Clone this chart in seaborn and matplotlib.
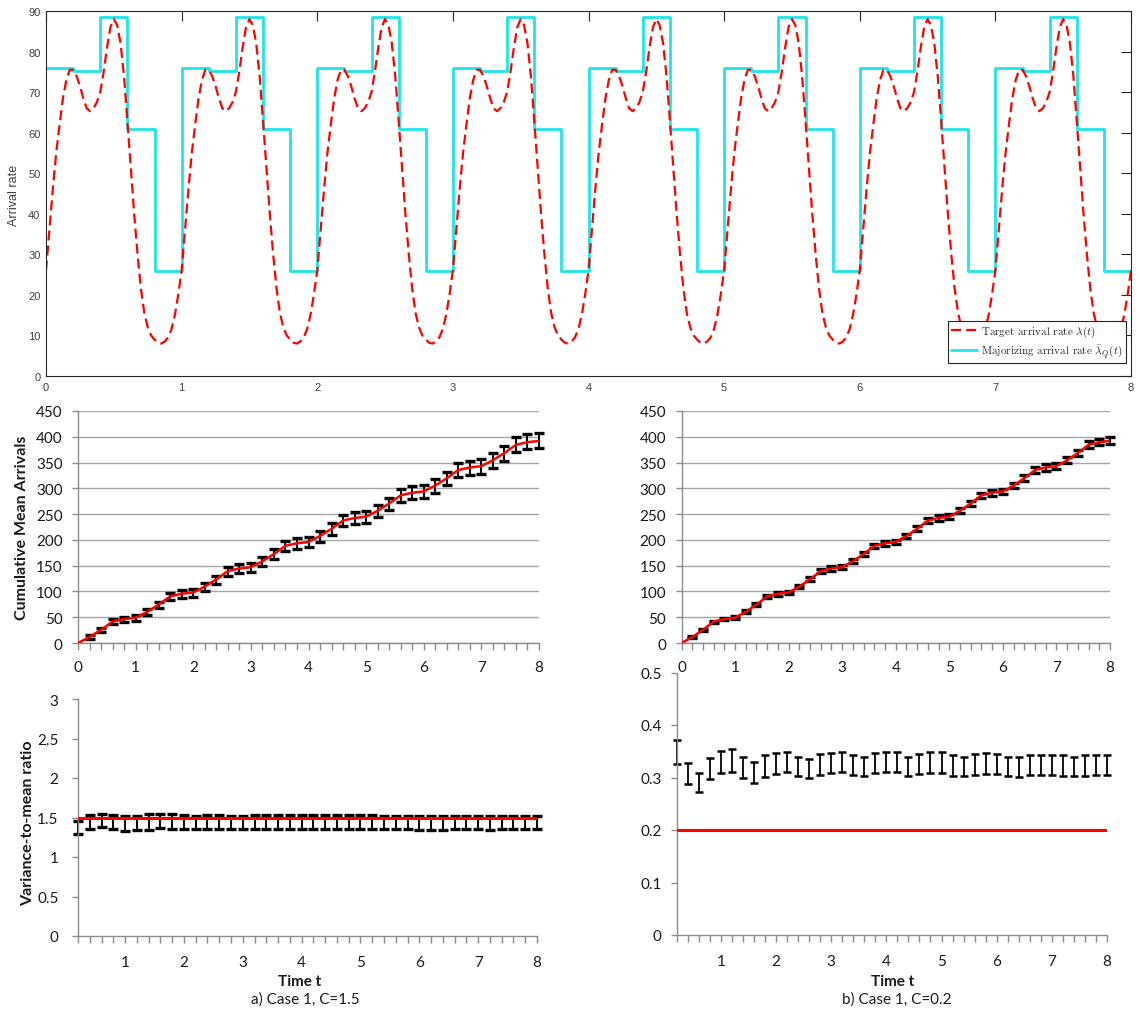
import numpy as np
import pandas as pd
import matplotlib
matplotlib.use("Agg")
import matplotlib.pyplot as plt
from matplotlib.ticker import MultipleLocator, FormatStrFormatter
from matplotlib.lines import Line2D
import seaborn as sns

# ---------------------------------------------------------------- data
# Target arrival rate lambda(t): one period (period = 1), read every 0.025
lam_period_t = [0.000, 0.025, 0.050, 0.075, 0.100, 0.125, 0.150, 0.175, 0.200, 0.225,
                0.250, 0.275, 0.300, 0.325, 0.350, 0.375, 0.400, 0.425, 0.450, 0.475,
                0.500, 0.525, 0.550, 0.575, 0.600, 0.625, 0.650, 0.675, 0.700, 0.725,
                0.750, 0.775, 0.800, 0.825, 0.850, 0.875, 0.900, 0.925, 0.950, 0.975]
lam_period_val = [26, 36, 46, 55, 62, 68.5, 73, 75.5, 75.5, 74,
                  71.5, 68.5, 66, 65.3, 66, 67.5, 70, 75, 81, 86,
                  88, 86.5, 82, 74, 63, 51.5, 40, 30, 21.5, 15.5,
                  12, 10, 9, 8.2, 8, 8.5, 9.5, 11.5, 15, 20]
lam_end_val = 26
n_periods = 8

# Majorizing piecewise-constant rate (same in every period)
maj_edges = [0.0, 0.2, 0.4, 0.6, 0.8]
maj_vals = [76, 75.3, 88.5, 61, 26]

# Cumulative mean arrivals (theoretical, red line), t = 0, 0.2, ..., 8
cum_theory = [0, 11.5, 25.5, 41.5, 46.5, 49, 60.5, 74.5, 90.5, 95.5,
              98, 109.5, 123.5, 139.5, 144.5, 147, 158.5, 172.5, 188.5, 193.5,
              196, 207.5, 221.5, 237.5, 242.5, 245, 256.5, 270.5, 286.5, 291.5,
              294, 305.5, 319.5, 335.5, 340.5, 343, 354.5, 368.5, 384.5, 389.5, 392]

# Simulated cumulative means and CI half widths at t = 0.2, ..., 8
simA_mean = [11, 25, 41, 46, 48.5, 60, 74, 90, 95, 97,
             109, 123, 139, 144, 146.5, 158, 172, 188, 193, 196,
             207, 221, 237, 242, 244.5, 256, 270, 286, 291, 293.5,
             305, 319, 335, 340, 342.5, 354, 368, 385.5, 391, 393]
simA_half = [4, 4.5, 5, 5.3, 5.6, 6, 6.3, 6.6, 7, 7.3,
             7.6, 7.9, 8.2, 8.5, 8.8, 9.1, 9.4, 9.7, 10, 10.2,
             10.5, 10.8, 11, 11.3, 11.6, 11.9, 12.1, 12.4, 12.6, 12.9,
             13.1, 13.3, 13.5, 13.7, 14, 14.2, 14.4, 14.6, 14.8, 15]
simB_mean = [11.5, 25.5, 41, 46.5, 49, 60.5, 74.5, 90, 95.5, 98,
             109.5, 123.5, 139.5, 144.5, 147, 158.5, 172.5, 188.5, 193.5, 196,
             207.5, 221.5, 237.5, 242.5, 245, 256.5, 270.5, 286.5, 291.5, 294,
             305.5, 319.5, 335.5, 340.5, 343, 354.5, 368.5, 384.5, 390, 392.5]
simB_half = [2, 2.3, 2.6, 2.8, 3, 3.1, 3.3, 3.4, 3.5, 3.6,
             3.7, 3.8, 3.9, 4, 4.1, 4.2, 4.3, 4.4, 4.5, 4.6,
             4.7, 4.8, 4.9, 5, 5.1, 5.2, 5.3, 5.4, 5.5, 5.6,
             5.7, 5.8, 5.9, 6, 6.1, 6.2, 6.3, 6.4, 6.5, 6.6]

# Variance-to-mean ratio CIs at t = 0.2, ..., 8
C_a = 1.5
vmrA_low = [1.29, 1.36, 1.38, 1.35, 1.33, 1.34, 1.34, 1.365, 1.36, 1.36,
            1.355, 1.35, 1.36, 1.355, 1.36, 1.36, 1.355, 1.36, 1.36, 1.355,
            1.36, 1.355, 1.35, 1.355, 1.36, 1.355, 1.35, 1.35, 1.355, 1.345,
            1.34, 1.345, 1.35, 1.35, 1.35, 1.345, 1.35, 1.355, 1.355, 1.355]
vmrA_high = [1.46, 1.53, 1.55, 1.53, 1.52, 1.52, 1.54, 1.55, 1.54, 1.53,
             1.525, 1.53, 1.53, 1.525, 1.525, 1.53, 1.53, 1.53, 1.53, 1.53,
             1.535, 1.535, 1.535, 1.53, 1.53, 1.53, 1.525, 1.525, 1.525, 1.52,
             1.515, 1.515, 1.52, 1.52, 1.52, 1.52, 1.515, 1.52, 1.52, 1.52]
C_b = 0.2
vmrB_low = [0.326, 0.288, 0.272, 0.297, 0.309, 0.310, 0.299, 0.290, 0.301, 0.307,
            0.311, 0.302, 0.299, 0.305, 0.309, 0.310, 0.305, 0.302, 0.309, 0.311,
            0.310, 0.302, 0.307, 0.309, 0.309, 0.303, 0.302, 0.305, 0.307, 0.307,
            0.302, 0.301, 0.305, 0.305, 0.305, 0.303, 0.302, 0.302, 0.305, 0.305]
vmrB_high = [0.372, 0.328, 0.309, 0.337, 0.350, 0.354, 0.340, 0.329, 0.342, 0.347,
             0.348, 0.340, 0.335, 0.345, 0.347, 0.348, 0.343, 0.340, 0.347, 0.349,
             0.348, 0.340, 0.345, 0.348, 0.349, 0.343, 0.340, 0.345, 0.347, 0.345,
             0.340, 0.340, 0.343, 0.343, 0.343, 0.342, 0.340, 0.342, 0.343, 0.343]

# ---------------------------------------------------------------- build series
lam_t = [k + t for k in range(n_periods) for t in lam_period_t] + [float(n_periods)]
lam_v = [v for k in range(n_periods) for v in lam_period_val] + [lam_end_val]
maj_t = [k + e for k in range(n_periods) for e in maj_edges] + [float(n_periods)]
maj_v = [v for k in range(n_periods) for v in maj_vals] + [maj_vals[-1]]
t_all = np.round(np.arange(0, 8.001, 0.2), 1)
t_sim = t_all[1:]

# ---------------------------------------------------------------- style
sns.set_style("white")
plt.rcParams['mathtext.fontset'] = 'cm'
XL = ['Lato', 'DejaVu Sans']
ML = ['Liberation Sans', 'DejaVu Sans']
RED = '#FF0000'
CYAN = '#1EE6E6'
GRID = '#A6A6A6'
AXC = '#8C8C8C'

W, H = 1140, 1012
fig = plt.figure(figsize=(W / 100, H / 100), dpi=100)


def rect(x0, x1, ytop, ybot):
    return [x0 / W, (H - ybot) / H, (x1 - x0) / W, (ybot - ytop) / H]


# ---------------------------------------------------------------- top panel
ax0 = fig.add_axes(rect(46, 1131, 12, 377))
sns.lineplot(x=maj_t, y=maj_v, ax=ax0, color=CYAN, lw=2.0, drawstyle='steps-post',
             sort=False, estimator=None)
sns.lineplot(x=lam_t, y=lam_v, ax=ax0, color=RED, lw=1.6, linestyle=(0, (4.5, 2.3)),
             sort=False, estimator=None)
ax0.set_xlim(0, 8)
ax0.set_ylim(0, 90)
ax0.xaxis.set_major_locator(MultipleLocator(1))
ax0.yaxis.set_major_locator(MultipleLocator(10))
ax0.set_xlabel('')
ax0.set_ylabel('')
for s in ax0.spines.values():
    s.set_visible(True)
    s.set_color('#262626')
    s.set_linewidth(0.8)
ax0.tick_params(direction='in', length=7, width=0.8, top=True, right=True,
                colors='#262626', labelcolor='#404040', labelsize=8, pad=4)
for lb in ax0.get_xticklabels() + ax0.get_yticklabels():
    lb.set_family(ML)
fig.text(14 / W, (H - 195) / H, 'Arrival rate', rotation=90, ha='center', va='center',
         fontsize=9, color='#404040', family=ML)
handles = [Line2D([], [], color=RED, lw=1.6, linestyle=(0, (4.5, 2.3))),
           Line2D([], [], color=CYAN, lw=2.0)]
labels = [r'Target arrival rate $\lambda(t)$',
          r'Majorizing arrival rate $\bar{\lambda}_Q(t)$']
leg = ax0.legend(handles, labels, loc='lower right', bbox_to_anchor=(0.9954, 0.036),
                 borderaxespad=0, prop={'family': 'cmr10', 'size': 8}, frameon=True,
                 fancybox=False, edgecolor='#262626', framealpha=1, handlelength=2.3,
                 labelspacing=0.25, borderpad=0.3, handletextpad=0.4)
leg.get_frame().set_linewidth(0.8)


# ---------------------------------------------------------------- helpers
def style_excel(ax, ylim, ymaj, xlim, grid, ylabpad, xlabpad):
    ax.set_xlim(*xlim)
    ax.set_ylim(*ylim)
    ax.yaxis.set_major_locator(MultipleLocator(ymaj))
    ax.yaxis.set_major_formatter(FormatStrFormatter('%g'))
    ax.xaxis.set_major_locator(MultipleLocator(1))
    ax.xaxis.set_major_formatter(FormatStrFormatter('%g'))
    ax.xaxis.set_minor_locator(MultipleLocator(0.2))
    ax.set_xlabel('')
    ax.set_ylabel('')
    ax.spines['top'].set_visible(False)
    ax.spines['right'].set_visible(False)
    for k in ('left', 'bottom'):
        ax.spines[k].set_color(AXC)
        ax.spines[k].set_linewidth(1.0)
    if grid:
        ax.grid(axis='y', color=GRID, lw=1.0)
        ax.set_axisbelow(True)
    else:
        ax.grid(False)
    ax.tick_params(axis='x', which='both', direction='out', length=5, width=1,
                   color=AXC, bottom=True, labelsize=11, labelcolor='#1a1a1a', pad=xlabpad)
    ax.tick_params(axis='y', which='both', direction='out', length=4, width=1,
                   color=AXC, left=True, labelsize=11, labelcolor='#1a1a1a', pad=ylabpad)
    for lb in ax.get_xticklabels() + ax.get_yticklabels():
        lb.set_family(XL)


def errbars(ax, x, low, high, capsize=3.6, capthick=2.4, elw=1.4):
    low = np.asarray(low, float)
    high = np.asarray(high, float)
    mid = (low + high) / 2
    cont = ax.errorbar(x, mid, yerr=[mid - low, high - mid], fmt='none', ecolor='black',
                       elinewidth=elw, capsize=capsize, capthick=capthick, zorder=2.5)
    for ch in cont.get_children():
        ch.set_clip_on(False)


# ---------------------------------------------------------------- middle panels
ax1 = fig.add_axes(rect(78, 539, 412, 644))
ax2 = fig.add_axes(rect(681.5, 1110, 412, 644))
for ax, m, h in ((ax1, simA_mean, simA_half), (ax2, simB_mean, simB_half)):
    m = np.asarray(m, float)
    h = np.asarray(h, float)
    errbars(ax, t_sim, m - h, m + h)
    sns.lineplot(x=t_all, y=cum_theory, ax=ax, color=RED, lw=1.8, zorder=3,
                 sort=False, estimator=None)
    style_excel(ax, (0, 450), 50, (0, 8), True, 7, 7)

fig.text(22 / W, (H - 528) / H, 'Cumulative Mean Arrivals', rotation=90, ha='center',
         va='center', fontsize=11.5, fontweight='bold', family=XL, color='#1a1a1a')

# ---------------------------------------------------------------- bottom panels
ax3 = fig.add_axes(rect(78, 537, 700, 937))
ax4 = fig.add_axes(rect(676.7, 1107, 673.5, 936))
errbars(ax3, t_sim, vmrA_low, vmrA_high, capsize=3.6, capthick=2.4, elw=1.4)
sns.lineplot(x=t_sim, y=[C_a] * len(t_sim), ax=ax3, color=RED, lw=2.2, zorder=3,
             sort=False, estimator=None)
style_excel(ax3, (0, 3), 0.5, (0.2, 8.0), False, 10, 9)
errbars(ax4, t_sim, vmrB_low, vmrB_high, capsize=3.0, capthick=1.8, elw=1.3)
sns.lineplot(x=t_sim, y=[C_b] * len(t_sim), ax=ax4, color=RED, lw=2.2, zorder=3,
             sort=False, estimator=None)
style_excel(ax4, (0, 0.5), 0.1, (0.2, 8.0), False, 7, 9)

fig.text(28 / W, (H - 823) / H, 'Variance-to-mean ratio', rotation=90, ha='center',
         va='center', fontsize=11.5, fontweight='bold', family=XL, color='#1a1a1a')
fig.text(300 / W, (H - 982) / H, 'Time t', ha='center', va='center', fontsize=11,
         fontweight='bold', family=XL, color='#1a1a1a')
fig.text(305 / W, (H - 1000) / H, 'a) Case 1, C=1.5', ha='center', va='center',
         fontsize=11, family=XL, color='#1a1a1a')
fig.text(893 / W, (H - 982) / H, 'Time t', ha='center', va='center', fontsize=11,
         fontweight='bold', family=XL, color='#1a1a1a')
fig.text(897 / W, (H - 1000) / H, 'b) Case 1, C=0.2', ha='center', va='center',
         fontsize=11, family=XL, color='#1a1a1a')

fig.savefig('out.png', dpi=100, facecolor='white')
